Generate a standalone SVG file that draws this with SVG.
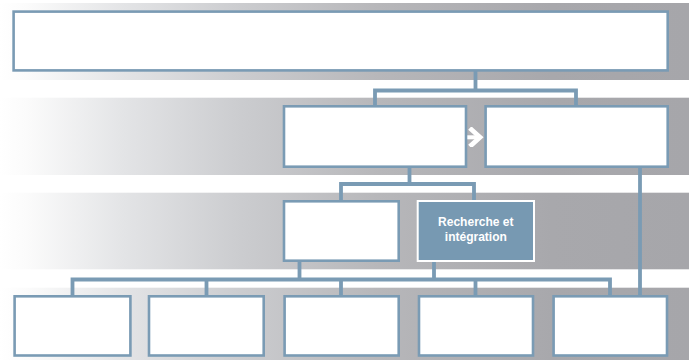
<svg xmlns="http://www.w3.org/2000/svg" width="689" height="360" viewBox="0 0 689 360">
  <defs>
    <linearGradient id="band" gradientUnits="userSpaceOnUse" x1="0" y1="0" x2="689" y2="0">
      <stop offset="0" stop-color="#ffffff"/>
      <stop offset="0.04" stop-color="#fbfbfb"/>
      <stop offset="0.18" stop-color="#e3e4e6"/>
      <stop offset="0.35" stop-color="#cbcccf"/>
      <stop offset="0.55" stop-color="#b7b7ba"/>
      <stop offset="0.8" stop-color="#a8a8ac"/>
      <stop offset="1" stop-color="#a6a6aa"/>
    </linearGradient>
    <marker id="chev" viewBox="0 0 10 10" refX="6" refY="5" markerWidth="5" markerHeight="5" orient="auto" markerUnits="strokeWidth">
      <path d="M1.8,1.2 L6,5 L1.8,8.8" fill="none" stroke="#ffffff" stroke-width="2.4" stroke-linecap="square"/>
    </marker>
  </defs>
  <style>
    .band { fill: url(#band); }
    .box { fill: #ffffff; stroke: #7a9bb4; stroke-width: 2.6; }
    .dark { fill: #7799b2; stroke: #ffffff; stroke-width: 2; }
    .conn { fill: none; stroke: #7a9bb4; stroke-width: 3.8; stroke-linecap: butt; }
    .arrow { fill: none; stroke: #ffffff; stroke-width: 4; }
    .lbl { font-family: "Liberation Sans", Arial, sans-serif; font-weight: bold; font-size: 12px; fill: #ffffff; text-anchor: middle; }
  </style>

  <g id="bands">
    <rect class="band" x="0" y="3" width="689" height="77"/>
    <rect class="band" x="0" y="97.7" width="689" height="77.3"/>
    <rect class="band" x="0" y="192.7" width="689" height="76.6"/>
    <rect class="band" x="0" y="287.7" width="689" height="72.3"/>
  </g>

  <g id="connectors">
    <path class="conn" d="M475.5,71 V90.5 M375,107 V90.5 H576 V107"/>
    <path class="conn" d="M409.5,167 V184 M341,201 V184 H474 V201"/>
    <path class="conn" d="M640,167 V296"/>
    <path class="conn" d="M299.5,261 V279.5 M434,261 V279.5"/>
    <path class="conn" d="M72.5,296 V279.5 H610 V296 M206.5,279.5 V296 M341,279.5 V296 M475.5,279.5 V296"/>
    <path class="arrow" d="M467,137.3 H480" marker-end="url(#chev)"/>
  </g>

  <g id="node-top">
    <rect class="box" x="13.6" y="11.6" width="654.1" height="58.8"/>
  </g>
  <g id="node-l2-left">
    <rect class="box" x="284" y="106.3" width="182" height="60.4"/>
  </g>
  <g id="node-l2-right">
    <rect class="box" x="485.6" y="106.3" width="182.1" height="60.4"/>
  </g>
  <g id="node-l3-left">
    <rect class="box" x="284" y="201.3" width="114.7" height="59.4"/>
  </g>
  <g id="node-recherche">
    <rect class="dark" x="417.7" y="201" width="116.3" height="60"/>
    <text class="lbl" x="475.8" y="225.7">Recherche et</text>
    <text class="lbl" x="475.8" y="240.7">intégration</text>
  </g>
  <g id="node-b1">
    <rect class="box" x="14.6" y="296.3" width="115.8" height="59.2"/>
  </g>
  <g id="node-b2">
    <rect class="box" x="149" y="296.3" width="114.7" height="59.2"/>
  </g>
  <g id="node-b3">
    <rect class="box" x="284.6" y="296.3" width="114.1" height="59.2"/>
  </g>
  <g id="node-b4">
    <rect class="box" x="419" y="296.3" width="114" height="59.2"/>
  </g>
  <g id="node-b5">
    <rect class="box" x="553.6" y="296.3" width="113.4" height="59.2"/>
  </g>
</svg>
